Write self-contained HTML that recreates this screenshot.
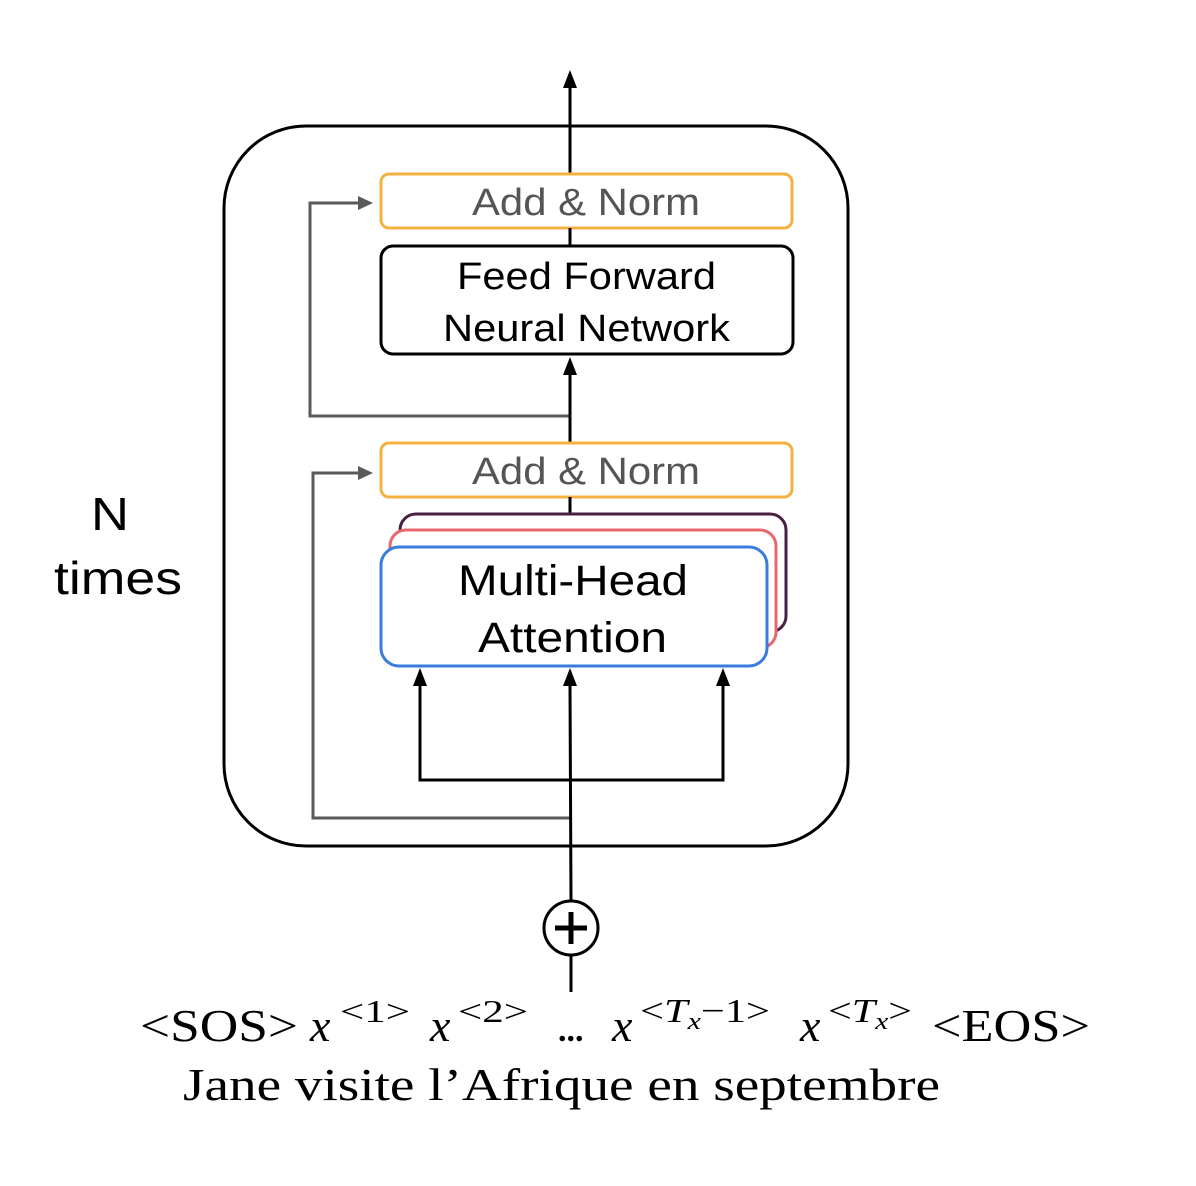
<!DOCTYPE html>
<html><head><style>
html,body{margin:0;padding:0;background:#fff;}
svg{display:block;}
.s{font-family:"Liberation Sans",sans-serif;}
.r{font-family:"Liberation Serif",serif;}
</style></head><body>
<svg width="1196" height="1186" viewBox="0 0 1196 1186" xmlns="http://www.w3.org/2000/svg">
<rect x="224" y="126" width="624" height="720" rx="82" fill="none" stroke="#000" stroke-width="3"/>
<line x1="570" y1="240" x2="570" y2="86" stroke="#000" stroke-width="3"/>
<path d="M570,70 L563,88 L577,88 z" fill="#000"/>
<polyline points="570,416 310,416 310,203 362,203" fill="none" stroke="#5a5a5a" stroke-width="3"/>
<path d="M373,203 L358,196 L358,210 z" fill="#5a5a5a"/>
<polyline points="570,818 313,818 313,473 362,473" fill="none" stroke="#5a5a5a" stroke-width="3"/>
<path d="M373,473 L358,466 L358,480 z" fill="#5a5a5a"/>
<rect x="381" y="174" width="411" height="54" rx="8" fill="#fff" stroke="#F4B13F" stroke-width="3"/>
<text x="472" y="215" class="s" font-size="38" fill="#555" textLength="228" lengthAdjust="spacingAndGlyphs">Add &amp; Norm</text>
<line x1="570" y1="228" x2="570" y2="246" stroke="#000" stroke-width="3"/>
<rect x="381" y="246" width="412" height="108" rx="12" fill="#fff" stroke="#000" stroke-width="3"/>
<text x="457" y="289" class="s" font-size="38" textLength="259" lengthAdjust="spacingAndGlyphs">Feed Forward</text>
<text x="443" y="341" class="s" font-size="38" textLength="287" lengthAdjust="spacingAndGlyphs">Neural Network</text>
<line x1="570" y1="443" x2="570" y2="372" stroke="#000" stroke-width="3"/>
<path d="M570,357 L563,375 L577,375 z" fill="#000"/>
<rect x="381" y="443" width="411" height="54" rx="8" fill="#fff" stroke="#F4B13F" stroke-width="3"/>
<text x="472" y="484" class="s" font-size="38" fill="#555" textLength="228" lengthAdjust="spacingAndGlyphs">Add &amp; Norm</text>
<line x1="570" y1="497" x2="570" y2="515" stroke="#000" stroke-width="3"/>
<rect x="400" y="514" width="386" height="118" rx="16" fill="#fff" stroke="#4A1F45" stroke-width="3"/>
<rect x="390" y="530" width="386" height="118" rx="16" fill="#fff" stroke="#E8676E" stroke-width="3"/>
<rect x="381" y="547" width="386" height="119" rx="18" fill="#fff" stroke="#3A7BE0" stroke-width="3"/>
<text x="458" y="595" class="s" font-size="43" textLength="230" lengthAdjust="spacingAndGlyphs">Multi-Head</text>
<text x="478" y="652" class="s" font-size="43" textLength="189" lengthAdjust="spacingAndGlyphs">Attention</text>
<polyline points="420,686 420,780 723,780 723,686" fill="none" stroke="#000" stroke-width="3"/>
<path d="M420,668 L413,686 L427,686 z" fill="#000"/>
<path d="M723,668 L716,686 L730,686 z" fill="#000"/>
<line x1="571" y1="901" x2="570" y2="686" stroke="#000" stroke-width="3"/>
<path d="M570,668 L563,686 L577,686 z" fill="#000"/>
<circle cx="571" cy="928" r="27" fill="#fff" stroke="#000" stroke-width="3"/>
<line x1="555" y1="928" x2="587" y2="928" stroke="#000" stroke-width="5"/>
<line x1="571" y1="912" x2="571" y2="944" stroke="#000" stroke-width="5"/>
<line x1="571" y1="955" x2="571" y2="992" stroke="#000" stroke-width="3"/>
<text x="91" y="530" class="s" font-size="46" textLength="38" lengthAdjust="spacingAndGlyphs">N</text>
<text x="54" y="594" class="s" font-size="46" textLength="128" lengthAdjust="spacingAndGlyphs">times</text>
<g class="r" font-size="46">
<text x="140" y="1041" textLength="158" lengthAdjust="spacingAndGlyphs">&lt;SOS&gt;</text>
<text x="310" y="1041" font-style="italic">x</text><text x="340" y="1022" font-size="32" textLength="70" lengthAdjust="spacingAndGlyphs">&lt;1&gt;</text>
<text x="430" y="1041" font-style="italic">x</text><text x="458" y="1022" font-size="32" textLength="70" lengthAdjust="spacingAndGlyphs">&lt;2&gt;</text>
<text x="558" y="1041" font-weight="bold" font-size="34">...</text>
<text x="612" y="1041" font-style="italic">x</text><text x="640" y="1022" font-size="34" textLength="130" lengthAdjust="spacingAndGlyphs">&lt;<tspan font-style="italic">T</tspan><tspan font-style="italic" font-size="24" dy="7">x</tspan><tspan dy="-7">−1&gt;</tspan></text>
<text x="800" y="1041" font-style="italic">x</text><text x="828" y="1022" font-size="34" textLength="84" lengthAdjust="spacingAndGlyphs">&lt;<tspan font-style="italic">T</tspan><tspan font-style="italic" font-size="24" dy="7">x</tspan><tspan dy="-7">&gt;</tspan></text>
<text x="932" y="1041" textLength="158" lengthAdjust="spacingAndGlyphs">&lt;EOS&gt;</text>
<text x="183" y="1100" textLength="757" lengthAdjust="spacingAndGlyphs">Jane visite l’Afrique en septembre</text>
</g>
</svg>
</body></html>
